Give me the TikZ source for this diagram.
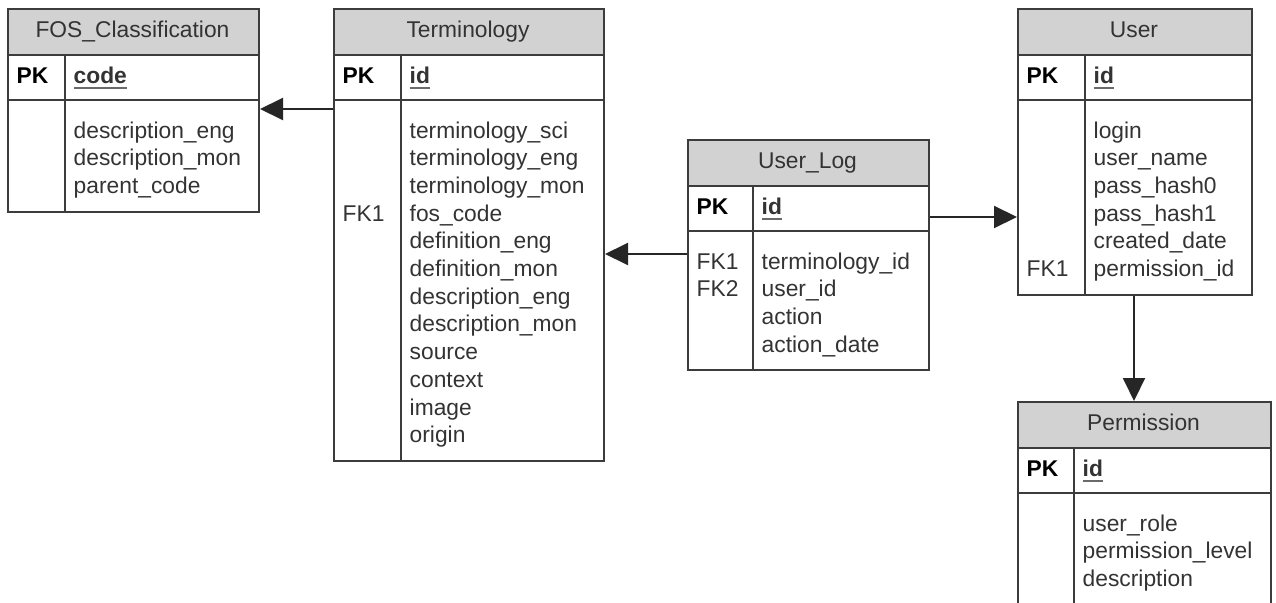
\documentclass[tikz,border=0pt]{standalone}
\usepackage{fontspec}
\setmainfont{Liberation Sans}
\usetikzlibrary{arrows.meta}

\definecolor{linegray}{HTML}{3C3C3C}
\definecolor{hdrgray}{HTML}{D2D2D2}
\definecolor{txtgray}{HTML}{333333}
\definecolor{ulgray}{HTML}{6A6A6A}

% underlined key column name
\newcommand\keyname[1]{\setbox0=\hbox{#1}\rlap{\color{ulgray}\rule[-5pt]{\wd0}{2pt}}\box0}

\tikzset{
  tblfont/.style={font=\fontsize{22.8}{27.7}\selectfont},
  hdrbox/.style={draw=linegray, line width=2pt, fill=hdrgray, anchor=north west, inner sep=0pt, minimum height=46pt},
  tblbox/.style={draw=linegray, line width=2pt, anchor=north west, inner sep=0pt},
  rule/.style={draw=linegray, line width=2pt},
  title/.style={tblfont, text=txtgray, anchor=base, inner sep=0pt},
  pklabel/.style={tblfont, font=\fontsize{22.8}{27.7}\selectfont\bfseries, text=black, anchor=base west, inner sep=0pt},
  keyfield/.style={tblfont, font=\fontsize{22.8}{27.7}\selectfont\bfseries, text=txtgray, anchor=base west, inner sep=0pt},
  field/.style={tblfont, text=txtgray, anchor=base west, inner sep=0pt},
  rel/.style={draw=black!85, line width=2pt, -{Triangle[length=23pt, width=22pt]}},
}

% frame of one entity: name, left, top, right, divider x, bottom, title
\newcommand\erd[7]{%
  \node[hdrbox, minimum width={#4-#2}] (#1-head) at (#2,#3) {};
  \node[tblbox, minimum width={#4-#2}, minimum height={#6-#3}] (#1) at (#2,#3) {};
  \draw[rule] (#2,#3+92) -- (#4,#3+92);
  \draw[rule] (#5,#3+46) -- (#5,#6);
  \node[title] (#1-title) at ({(#2+#4)/2},#3+29.5) {#7};
  \node[pklabel] (#1-pk) at (#2+9.5,#3+75.5) {PK};
}
% primary key name: name, divider x, top, text
\newcommand\erdkey[4]{\node[keyfield] (#1-key) at (#2+8.5,#3+75.5) {\keyname{#4}};}
% attribute list: name, divider x, top, list
\newcommand\erdfields[4]{%
  \foreach \f [count=\i from 0] in {#4}
    \node[field] (#1-f\i) at (#2+8.5,#3+130+27.7*\i) {\f};
}
% foreign key label: name, left, top, line index, text
\newcommand\erdfk[5]{\node[field] (#1-fk#4) at (#2+9.5,#3+130+27.7*#4) {#5};}

\begin{document}
\begin{tikzpicture}[x=1pt, y=-1pt]
\useasboundingbox (0,0) rectangle (1276,602);
\clip (0,0) rectangle (1276,602);

% FOS_Classification
\erd{fos}{7}{8}{258}{65}{211}{FOS\_Classification}
\erdkey{fos}{65}{8}{code}
\erdfields{fos}{65}{8}{description\_eng,description\_mon,parent\_code}

% Terminology
\erd{term}{333}{8}{603}{401}{460}{Terminology}
\erdkey{term}{401}{8}{id}
\erdfields{term}{401}{8}{terminology\_sci,terminology\_eng,terminology\_mon,fos\_code,definition\_eng,definition\_mon,description\_eng,description\_mon,source,context,image,origin}
\erdfk{term}{333}{8}{3}{FK1}

% User_Log
\erd{log}{687}{139}{928}{753}{369}{User\_Log}
\erdkey{log}{753}{139}{id}
\erdfields{log}{753}{139}{terminology\_id,user\_id,action,action\_date}
\erdfk{log}{687}{139}{0}{FK1}
\erdfk{log}{687}{139}{1}{FK2}

% User
\erd{user}{1017}{8}{1251}{1085}{294}{User}
\erdkey{user}{1085}{8}{id}
\erdfields{user}{1085}{8}{login,user\_name,pass\_hash0,pass\_hash1,created\_date,permission\_id}
\erdfk{user}{1017}{8}{5}{FK1}

% Permission (continues past the lower edge)
\erd{perm}{1017}{401}{1270}{1074}{640}{Permission}
\erdkey{perm}{1074}{401}{id}
\erdfields{perm}{1074}{401}{user\_role,permission\_level,description}

% relationships
\coordinate (r1) at (0,109);
\coordinate (r2) at (0,254);
\coordinate (r3) at (0,217);
\coordinate (r4) at (1134,0);
\draw[rel] (term.west |- r1) -- (fos.east |- r1);
\draw[rel] (log.west |- r2) -- (term.east |- r2);
\draw[rel] (log.east |- r3) -- (user.west |- r3);
\draw[rel] (user.south -| r4) -- (perm-head.north -| r4);
\end{tikzpicture}
\end{document}
